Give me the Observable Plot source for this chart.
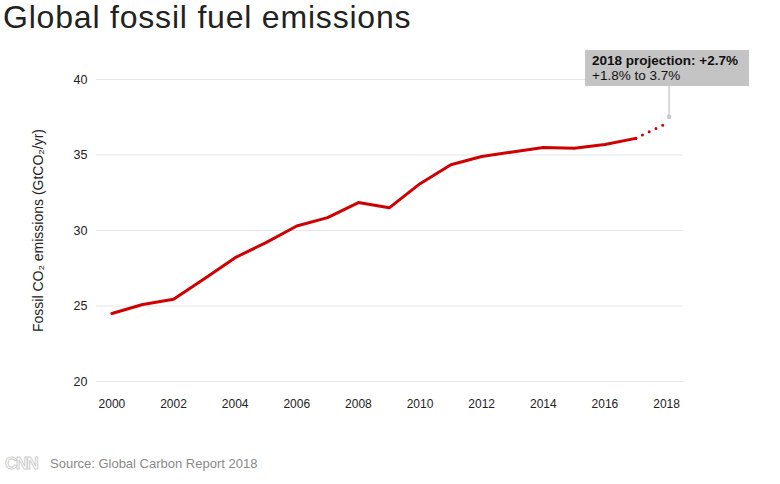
<!DOCTYPE html>
<html>
<head>
<meta charset="utf-8">
<script src="https://cdn.jsdelivr.net/npm/d3@7"></script>
<script src="https://cdn.jsdelivr.net/npm/@observablehq/plot@0.6"></script>
<style>
  body { margin: 0; background: #fff; font-family: "Liberation Sans", Arial, sans-serif; }
  #wrap { width: 780px; height: 484px; position: relative; overflow: hidden; }
  #title { height: 42px; font-size: 32px; letter-spacing: 0.8px; color: #222; padding-left: 3px; line-height: 34px; white-space: nowrap; }
  #footer { height: 42px; position: relative; }
  #logo { position: absolute; left: 5px; top: 12px; font-size: 17px; font-weight: bold; color: #fff; -webkit-text-stroke: 1px #cfcfcf; letter-spacing: -1.5px; }
  #source { position: absolute; left: 50px; top: 14px; font-size: 13px; color: #8a8a8a; }
</style>
</head>
<body>
<div id="wrap">
  <div id="title">Global fossil fuel emissions</div>
  <div id="chart"></div>
  <div id="footer"><span id="logo">CNN</span><span id="source">Source: Global Carbon Report 2018</span></div>
</div>
<script>
const years = [2000, 2001, 2002, 2003, 2004, 2005, 2006, 2007, 2008, 2009, 2010, 2011, 2012, 2013, 2014, 2015, 2016, 2017];
const emissions = [24.5, 25.1, 25.45, 26.8, 28.2, 29.2, 30.3, 30.85, 31.85, 31.5, 33.1, 34.35, 34.9, 35.2, 35.5, 35.45, 35.7, 36.1];
const projYear = 2018;
const projValue = 37.1;
const xTicks = [2000, 2002, 2004, 2006, 2008, 2010, 2012, 2014, 2016, 2018];
const yTicks = [20, 25, 30, 35, 40];
const yLabel = "Fossil CO\u2082 emissions (GtCO\u2082/yr)";
const annotTitle = "2018 projection: +2.7%";
const annotRange = "+1.8% to 3.7%";

const data = years.map((y, i) => ({year: y, value: emissions[i]}));
const proj = [data[data.length - 1], {year: projYear, value: projValue}];

const chart = Plot.plot({
  width: 780,
  height: 400,
  marginTop: 37,
  marginBottom: 61,
  marginLeft: 96,
  marginRight: 97,
  style: {fontFamily: "Liberation Sans, Arial, sans-serif", fontSize: "12px", color: "#222", background: "#fff"},
  x: {domain: [1999.5, 2018.55], ticks: xTicks, tickFormat: d => String(d), tickSize: 0, tickPadding: 18, label: null},
  y: {domain: [20, 40], ticks: yTicks, tickSize: 0, tickPadding: 9, label: null},
  marks: [
    Plot.gridY(yTicks, {stroke: "#e6e6e6", strokeOpacity: 1, strokeWidth: 1}),
    Plot.axisX({ticks: xTicks, tickFormat: d => String(d), tickSize: 0, tickPadding: 18, fontSize: 12, fontWeight: 500}),
    Plot.axisY({ticks: yTicks, tickSize: 0, tickPadding: 9, fontSize: 12.5, fontWeight: 500}),
    Plot.text([yLabel], {frameAnchor: "left", textAnchor: "middle", rotate: -90, dx: -58, fontSize: 14, fill: "#222"}),
    Plot.line(data, {x: "year", y: "value", stroke: "#d10000", strokeWidth: 3}),
    Plot.line(proj, {x: "year", y: "value", stroke: "#d10000", strokeWidth: 3, strokeDasharray: "0,7.5", strokeLinecap: "round"})
  ]
});
document.getElementById("chart").appendChild(chart);

// Annotation anchored on the projected point via the chart's scales
const sx = chart.scale("x").apply(projYear);
const sy = chart.scale("y").apply(projValue);
const svg = d3.select(chart);
const g = svg.append("g").attr("text-anchor", "start");
const boxTop = chart.scale("y").apply(40) - 29;
const boxBottom = boxTop + 36;
g.append("line").attr("x1", sx + 3).attr("x2", sx + 3).attr("y1", boxBottom).attr("y2", sy - 6)
  .attr("stroke", "#cccccc").attr("stroke-width", 1.5);
g.append("circle").attr("cx", sx + 3).attr("cy", sy - 6).attr("r", 2.2).attr("fill", "#c8c8c8");
g.append("rect").attr("x", sx - 81).attr("y", boxTop).attr("width", 164).attr("height", 36).attr("fill", "#c4c4c4");
g.append("text").attr("text-anchor", "start").attr("x", sx - 74).attr("y", boxTop + 15).attr("font-size", 13.5).attr("font-weight", "bold").attr("fill", "#111").text(annotTitle);
g.append("text").attr("text-anchor", "start").attr("x", sx - 74).attr("y", boxTop + 30).attr("font-size", 13.5).attr("fill", "#111").text(annotRange);
</script>
</body>
</html>
